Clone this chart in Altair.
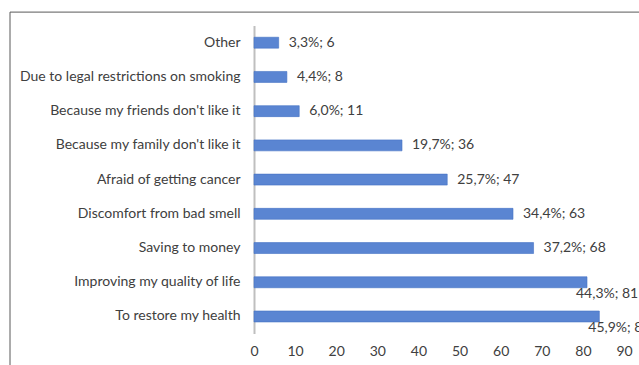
import altair as alt
import pandas as pd

categories = [
    "Other",
    "Due to legal restrictions on smoking",
    "Because my friends don't like it",
    "Because my family don't like it",
    "Afraid of getting cancer",
    "Discomfort from bad smell",
    "Saving to money",
    "Improving my quality of life",
    "To restore my health",
]
counts = [6, 8, 11, 36, 47, 63, 68, 81, 84]
percents = ["3,3%", "4,4%", "6,0%", "19,7%", "25,7%", "34,4%", "37,2%", "44,3%", "45,9%"]
x_ticks = [0, 10, 20, 30, 40, 50, 60, 70, 80, 90]

df = pd.DataFrame({
    "reason": categories,
    "count": counts,
    "label": [f"{p}; {c}" for p, c in zip(percents, counts)],
})

FONT = "Lato"
TEXT_COLOR = "#404040"

base = alt.Chart(df)

y_enc = alt.Y(
    "reason:N",
    sort=categories,
    scale=alt.Scale(paddingInner=0.68, paddingOuter=0.34),
    axis=alt.Axis(
        title=None, ticks=False, domain=True, domainColor="#bfbfbf", domainWidth=2,
        labelPadding=14, labelFontSize=14, labelColor=TEXT_COLOR, labelFont=FONT,
        labelLimit=400,
    ),
)
x_enc = alt.X(
    "count:Q",
    scale=alt.Scale(domain=[0, 90], nice=False),
    axis=alt.Axis(
        title=None, values=x_ticks, grid=False, ticks=False, domain=False,
        labelPadding=11, labelFontSize=14, labelColor=TEXT_COLOR, labelFont=FONT,
        labelFlush=False,
    ),
)

bars = base.mark_bar(fill="#5a85d2", stroke="#4472c4", strokeWidth=0.6).encode(
    x=x_enc, y=y_enc
)

small_labels = base.transform_filter("datum.count < 75").mark_text(
    align="left", baseline="middle", dx=10, fontSize=14, font=FONT, color=TEXT_COLOR
).encode(x="count:Q", y=alt.Y("reason:N", sort=categories), text="label:N")

big_labels = base.transform_filter("datum.count >= 75").mark_text(
    align="left", baseline="middle", dx=-11, dy=12, fontSize=14, font=FONT, color=TEXT_COLOR
).encode(x="count:Q", y=alt.Y("reason:N", sort=categories), text="label:N")

frame_data = alt.Data(values=[{"k": 1}])
frame_top = alt.Chart(frame_data).mark_rule(color="#595959", strokeWidth=1).encode(
    x=alt.value(-244), x2=alt.value(600), y=alt.value(-13.5)
)
frame_left = alt.Chart(frame_data).mark_rule(color="#595959", strokeWidth=1).encode(
    x=alt.value(-244), y=alt.value(-13.5), y2=alt.value(400)
)

chart = alt.layer(frame_top, frame_left, bars, small_labels, big_labels).properties(
    width=370,
    height=308,
    autosize=alt.AutoSizeParams(type="none"),
    padding={"left": 254, "top": 25.6, "right": 15, "bottom": 31.4},
    background="white",
).configure_view(stroke=None)

chart.save("out.html", embed_options={"renderer": "svg", "actions": False})
